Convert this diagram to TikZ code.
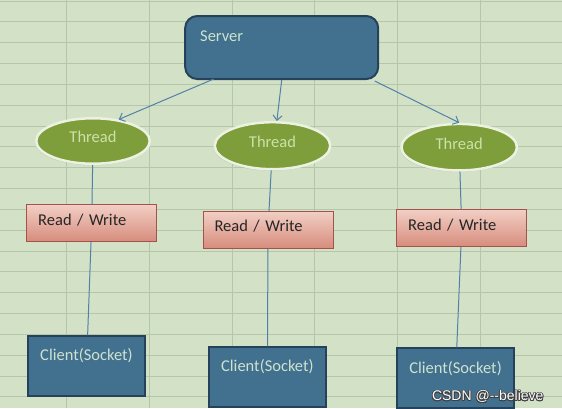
\documentclass[tikz,border=0pt]{standalone}
\usepackage{fontspec}
\setmainfont{Carlito}
\newfontfamily\wmfont{Liberation Sans}
\usepackage{contour}
\contourlength{0.7pt}
\usetikzlibrary{shapes.geometric,arrows.meta,calc,shadows}
\definecolor{bg}{RGB}{211,226,199}
\definecolor{gridc}{RGB}{180,199,170}
\definecolor{boxblue}{RGB}{66,112,143}
\definecolor{boxedge}{RGB}{38,66,90}
\definecolor{paletext}{RGB}{206,226,206}
\definecolor{thfill}{RGB}{125,158,58}
\definecolor{thedge}{RGB}{236,241,226}
\definecolor{thtext}{RGB}{205,226,170}
\definecolor{rwtop}{RGB}{242,206,196}
\definecolor{rwbot}{RGB}{214,140,124}
\definecolor{rwedge}{RGB}{165,82,76}
\definecolor{link}{RGB}{82,128,168}
\begin{document}
\begin{tikzpicture}[x=1pt,y=-1pt,
  every node/.style={font=\fontsize{16.5}{18}\selectfont},
  server/.style={draw=boxedge,line width=2pt,fill=boxblue,rounded corners=12pt,
    minimum width=193pt,minimum height=63pt,inner xsep=15pt,inner ysep=0pt,
    text width=163pt,align=left,text=paletext,text height=8pt,text depth=19.4pt},
  thread/.style={ellipse,draw=thedge,line width=2.5pt,fill=thfill,inner sep=0pt,
    text=thtext,text height=8pt,text depth=4.4pt,
    drop shadow={shadow xshift=-1pt,shadow yshift=-1.5pt,opacity=0.25}},
  rw/.style={draw=rwedge,line width=1pt,top color=rwtop,bottom color=rwbot,
    minimum width=130pt,minimum height=36.7pt,inner xsep=11.5pt,inner ysep=0pt,
    text width=107pt,align=left,text=black!85,text height=8pt,text depth=4.2pt},
  client/.style={draw=boxedge,line width=2pt,fill=boxblue,minimum width=117pt,
    minimum height=59.5pt,inner sep=0pt,text=paletext,text height=8pt,text depth=18.4pt},
  link/.style={draw=link,line width=1pt},
  arr/.style={link,-{Straight Barb[length=5pt,width=9pt]}}
]
\fill[bg] (0,0) rectangle (562,408);
\useasboundingbox (0,0) rectangle (562,408);
\foreach \i in {0,...,19}
  \draw[gridc,line width=0.8pt] (0,{1+20.83*\i}) -- (562,{1+20.83*\i});
\foreach \x in {66.7,149.4,232.1,314.8,397.5,480.2}
  \draw[gridc,line width=0.8pt] (\x,0) -- (\x,408);

\node[server] (server) at (281.7,47.5) {Server};

\node[thread,minimum width=113.5pt,minimum height=45.5pt] (t1) at (93,141) {Thread};
\node[thread,minimum width=115.5pt,minimum height=47pt] (t2) at (272.5,145.7) {Thread};
\node[thread,minimum width=115.5pt,minimum height=46.5pt] (t3) at (459.2,147.2) {Thread};

\node[rw] (rw1) at (91.7,223.3) {Read / Write};
\node[rw] (rw2) at (268,230) {Read / Write};
\node[rw] (rw3) at (461.7,228.3) {Read / Write};

\begin{scope}
\clip (0,0) rectangle (562,408);
\node[client] (c1) at (86.5,366) {Client(Socket)};
\node[client] (c2) at (267.4,377) {Client(Socket)};
\node[client] (c3) at (455.5,378.2) {Client(Socket)};
\end{scope}

\draw[arr] ([xshift=-68pt,yshift=1pt]server.south) -- (t1.40);
\draw[arr] (server.south) -- (t2.80);
\draw[arr] ([xshift=93pt,yshift=-1pt]server.south) -- (t3.north);

\draw[link] (t1) -- (rw1);
\draw[link] (rw1) -- (c1);
\draw[link] (t2) -- (rw2);
\draw[link] (rw2) -- (c2);
\draw[link] (t3) -- (rw3);
\draw[link] (rw3) -- (c3);

\node[anchor=east,text=white,font=\wmfont\fontsize{14}{16}\selectfont] (wm) at (547,397) {\contour{black!75}{CSDN @-{}-believe}};
\end{tikzpicture}
\end{document}
